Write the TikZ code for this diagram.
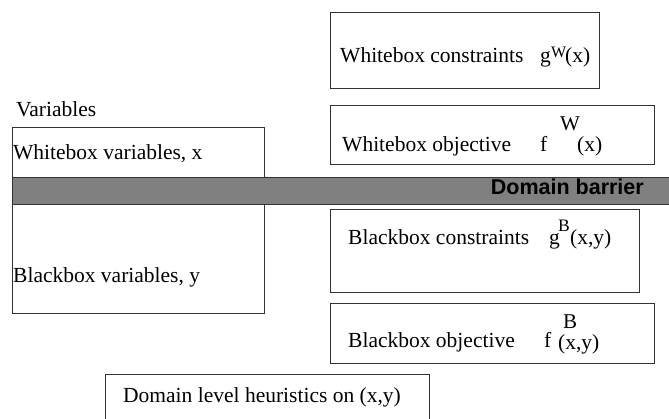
\documentclass[tikz,border=0pt]{standalone}
\usepackage{fontspec}
\setmainfont{Liberation Serif}
\newfontfamily\barrierfont{Liberation Sans}
\begin{document}
\begin{tikzpicture}[x=1pt,y=-1pt,
  box/.style={draw=black!80,line width=0.8pt,fill=white,rectangle,inner sep=0pt,anchor=north west},
  txt/.style={anchor=base west,inner sep=0pt,font=\fontsize{21.5}{24}\selectfont},
  sup/.style={anchor=base west,inner sep=0pt,font=\fontsize{16}{18}\selectfont},
  supl/.style={anchor=base west,inner sep=0pt,font=\fontsize{21}{24}\selectfont}]
\useasboundingbox (0,0) rectangle (669,419);
\clip (0,0) rectangle (669,419);
% boxes
\node[box,minimum width=269pt,minimum height=76pt] (wc) at (330,12) {};
\node[box,minimum width=324pt,minimum height=59pt] (wo) at (330,105) {};
\node[box,minimum width=252pt,minimum height=186pt] (vars) at (12,127) {};
\node[box,fill=black!50,minimum width=660pt,minimum height=27pt] (barrier) at (12,177) {};
\node[box,minimum width=309pt,minimum height=83pt] (bc) at (330,209) {};
\node[box,minimum width=324pt,minimum height=60pt] (bo) at (330,303) {};
\node[box,minimum width=324pt,minimum height=60pt] (heur) at (105,374) {};
% texts
\node[txt] (tvar) at (16,117) {Variables};
\node[txt] (twv) at (13,160) {Whitebox variables, x};
\node[txt] (tbv) at (13,283) {Blackbox variables, y};
\node[anchor=base east,inner sep=0pt,font=\barrierfont\bfseries\fontsize{21.5}{24}\selectfont] (tbar) at (644,195) {Domain barrier};
\node[txt] (twc) at (340,63) {Whitebox constraints};
\node[txt] (twc1) at (540,63) {g};
\node[sup] (twc2) at (551,58) {W};
\node[txt] (twc3) at (565,63) {(x)};
\node[txt] (two) at (342,152) {Whitebox objective};
\node[txt] (two1) at (540,152) {f};
\node[supl] (two2) at (560,131) {W};
\node[txt] (two3) at (577,152) {(x)};
\node[txt] (tbc) at (348,245) {Blackbox constraints};
\node[txt] (tbc1) at (549,245) {g};
\node[supl,font=\fontsize{17.5}{20}\selectfont] (tbc2) at (558,232) {B};
\node[txt] (tbc3) at (570,245) {(x,y)};
\node[txt] (tbo) at (348,348) {Blackbox objective};
\node[txt] (tbo1) at (544,348) {f};
\node[supl] (tbo2) at (563,329) {B};
\node[txt] (tbo3) at (558,350) {(x,y)};
\node[txt] (theur) at (123,402) {Domain level heuristics on (x,y)};
\end{tikzpicture}
\end{document}
